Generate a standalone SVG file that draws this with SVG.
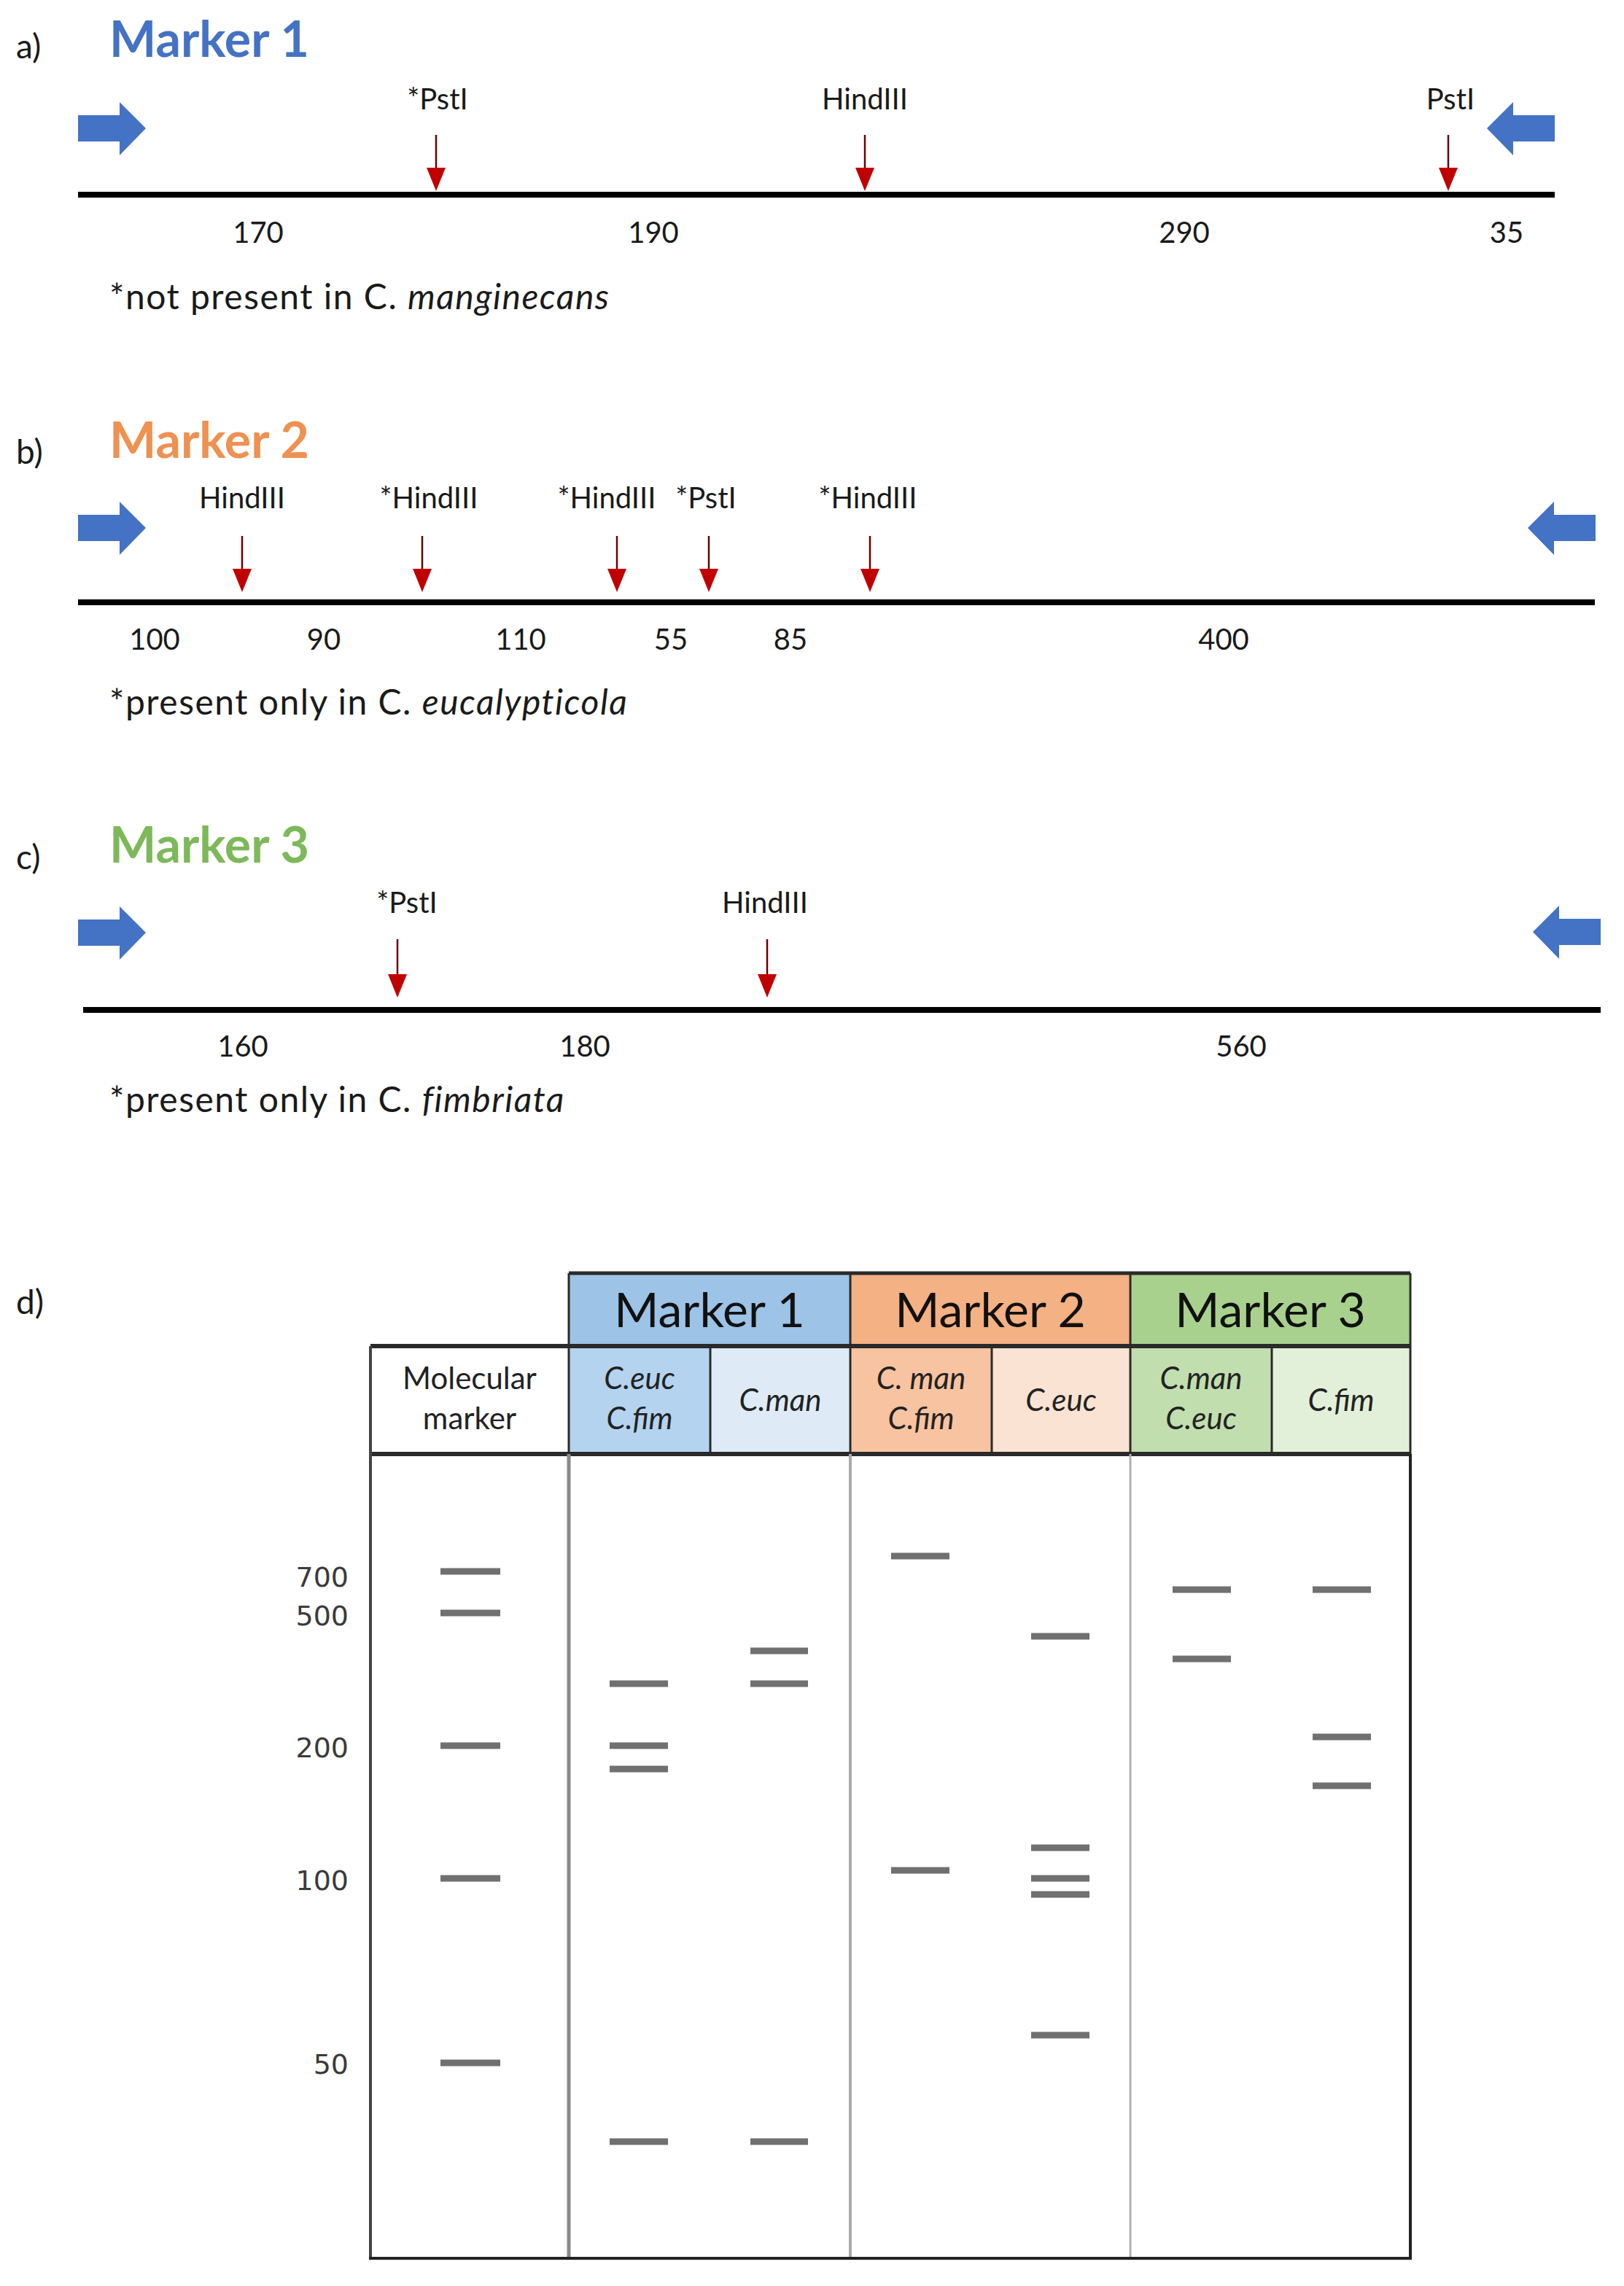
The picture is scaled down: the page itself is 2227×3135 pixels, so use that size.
<svg xmlns="http://www.w3.org/2000/svg" width="2227" height="3135" viewBox="0 0 2227 3135">
<defs>
<style>
.t{font-family:Lato,'Liberation Sans',sans-serif;fill:#1a1a1a}
.enz{font-size:40px;text-anchor:middle}
.num{font-size:40px;text-anchor:middle}
.note{font-size:48px;letter-spacing:1.5px}
.title{font-size:68px;font-weight:bold}
.pl{font-size:46px}
.rs{stroke:#6b0000;stroke-width:2.5;marker-end:url(#rh)}
.dna{stroke:#000;stroke-width:8}
.band{stroke:#707070;stroke-width:9}
.gl{font-family:'DejaVu Sans',Verdana,sans-serif;font-size:38px;fill:#3a3a3a;text-anchor:end}
.hd{font-size:66px;text-anchor:middle;fill:#111}
.sh{font-size:42px;text-anchor:middle;fill:#222}
.it{font-style:italic}
.blue{fill:#4472C4}
</style>
<marker id="rh" markerUnits="userSpaceOnUse" viewBox="0 0 32 26" refX="0" refY="13" markerWidth="32" markerHeight="26" orient="auto">
<path d="M0,0 L32,13 L0,26 Z" fill="#C00000"/>
</marker>
<path id="barr" d="M0,-18 H57 V-36 L93,0 L57,37 V18 H0 Z"/>
</defs>
<rect width="2227" height="3135" fill="#fff"/>

<!-- Panel a -->
<g id="panel-a">
<text class="t pl" x="22" y="80">a)</text>
<text class="t title" x="150" y="78" style="fill:#4472C4">Marker 1</text>
<use href="#barr" class="blue" transform="translate(107,176)"/>
<use href="#barr" class="blue" transform="translate(2132,176) scale(-1,1)"/>
<line class="dna" x1="107" y1="267" x2="2132" y2="267"/>
<g id="cuts-a">
<line class="rs" x1="598" y1="185" x2="598" y2="230"/>
<line class="rs" x1="1186" y1="185" x2="1186" y2="230"/>
<line class="rs" x1="1986" y1="185" x2="1986" y2="230"/>
</g>
<text class="t enz" x="600" y="150">*PstI</text>
<text class="t enz" x="1186" y="150">HindIII</text>
<text class="t enz" x="1989" y="150">PstI</text>
<text class="t num" x="354" y="333">170</text>
<text class="t num" x="896" y="333">190</text>
<text class="t num" x="1624" y="333">290</text>
<text class="t num" x="2066" y="333">35</text>
<text class="t note" x="150" y="424">*not present in C. <tspan class="it">manginecans</tspan></text>
</g>

<!-- Panel b -->
<g id="panel-b">
<text class="t pl" x="22" y="636">b)</text>
<text class="t title" x="150" y="628" style="fill:#EE9151">Marker 2</text>
<use href="#barr" class="blue" transform="translate(107,724)"/>
<use href="#barr" class="blue" transform="translate(2188,724) scale(-1,1)"/>
<line class="dna" x1="107" y1="826" x2="2187" y2="826"/>
<g id="cuts-b">
<line class="rs" x1="332" y1="735" x2="332" y2="780"/>
<line class="rs" x1="579" y1="735" x2="579" y2="780"/>
<line class="rs" x1="846" y1="735" x2="846" y2="780"/>
<line class="rs" x1="972" y1="735" x2="972" y2="780"/>
<line class="rs" x1="1193" y1="735" x2="1193" y2="780"/>
</g>
<text class="t enz" x="332" y="697">HindIII</text>
<text class="t enz" x="588" y="697">*HindIII</text>
<text class="t enz" x="832" y="697">*HindIII</text>
<text class="t enz" x="968" y="697">*PstI</text>
<text class="t enz" x="1190" y="697">*HindIII</text>
<text class="t num" x="212" y="891">100</text>
<text class="t num" x="444" y="891">90</text>
<text class="t num" x="714" y="891">110</text>
<text class="t num" x="920" y="891">55</text>
<text class="t num" x="1084" y="891">85</text>
<text class="t num" x="1678" y="891">400</text>
<text class="t note" x="150" y="980">*present only in C. <tspan class="it">eucalypticola</tspan></text>
</g>

<!-- Panel c -->
<g id="panel-c">
<text class="t pl" x="22" y="1192">c)</text>
<text class="t title" x="150" y="1183" style="fill:#7DB95A">Marker 3</text>
<use href="#barr" class="blue" transform="translate(107,1279)"/>
<use href="#barr" class="blue" transform="translate(2195,1278) scale(-1,1)"/>
<line class="dna" x1="114" y1="1385" x2="2195" y2="1385"/>
<g id="cuts-c">
<line class="rs" x1="545" y1="1288" x2="545" y2="1336"/>
<line class="rs" x1="1052" y1="1288" x2="1052" y2="1336"/>
</g>
<text class="t enz" x="558" y="1252">*PstI</text>
<text class="t enz" x="1049" y="1252">HindIII</text>
<text class="t num" x="333" y="1449">160</text>
<text class="t num" x="802" y="1449">180</text>
<text class="t num" x="1702" y="1449">560</text>
<text class="t note" x="150" y="1525">*present only in C. <tspan class="it">fimbriata</tspan></text>
</g>

<!-- Panel d -->
<g id="panel-d">
<text class="t pl" x="22" y="1802">d)</text>
<g id="table-fills">
<rect x="780" y="1746" width="386" height="100" fill="#9DC3E6"/>
<rect x="1166" y="1746" width="384" height="100" fill="#F4B183"/>
<rect x="1550" y="1746" width="384" height="100" fill="#A9D18E"/>
<rect x="508" y="1846" width="272" height="148" fill="#fff"/>
<rect x="780" y="1846" width="194" height="148" fill="#B4D3EF"/>
<rect x="974" y="1846" width="192" height="148" fill="#DEEBF7"/>
<rect x="1166" y="1846" width="194" height="148" fill="#F8C3A0"/>
<rect x="1360" y="1846" width="190" height="148" fill="#FBE3D3"/>
<rect x="1550" y="1846" width="194" height="148" fill="#C1DEAE"/>
<rect x="1744" y="1846" width="190" height="148" fill="#E2F0D9"/>
</g>
<g id="table-lines" stroke="#2a2a2a" stroke-width="4" fill="none">
<path d="M780,1746 H1934" stroke-width="5"/>
<path d="M508,1846 H1934" stroke-width="6"/>
<path d="M508,1994 H1934" stroke-width="6"/>
<path d="M780,1746 V1994 M1166,1746 V1994 M1550,1746 V1994 M1934,1746 V1994" stroke-width="3"/>
<path d="M974,1846 V1994 M1360,1846 V1994 M1744,1846 V1994" stroke-width="3"/>
<path d="M508,1846 V3097" stroke="#444"/>
<path d="M780,1994 V3097" stroke="#8a8a8a" stroke-width="5"/>
<path d="M1166,1994 V3097" stroke="#aaa"/>
<path d="M1550,1994 V3097" stroke="#b0b0b0" stroke-width="3"/>
<path d="M1934,1994 V3097" stroke="#222"/>
<path d="M506,3097 H1936" stroke="#222"/>
</g>
<g id="headers">
<text class="t hd" x="973" y="1820">Marker 1</text>
<text class="t hd" x="1358" y="1820">Marker 2</text>
<text class="t hd" x="1742" y="1820">Marker 3</text>
<text class="t sh" x="644" y="1905">Molecular</text>
<text class="t sh" x="644" y="1960">marker</text>
<text class="t sh it" x="877" y="1905">C.euc</text>
<text class="t sh it" x="877" y="1960">C.fim</text>
<text class="t sh it" x="1070" y="1935">C.man</text>
<text class="t sh it" x="1263" y="1905">C. man</text>
<text class="t sh it" x="1263" y="1960">C.fim</text>
<text class="t sh it" x="1455" y="1935">C.euc</text>
<text class="t sh it" x="1647" y="1905">C.man</text>
<text class="t sh it" x="1647" y="1960">C.euc</text>
<text class="t sh it" x="1839" y="1935">C.fim</text>
</g>
<g id="ladder-labels">
<text class="gl" x="478" y="2176">700</text>
<text class="gl" x="478" y="2229">500</text>
<text class="gl" x="478" y="2410">200</text>
<text class="gl" x="478" y="2592">100</text>
<text class="gl" x="478" y="2844">50</text>
</g>
<g id="bands">
<path class="band" d="M604,2155 H686 M604,2212 H686 M604,2394 H686 M604,2576 H686 M604,2829 H686"/>
<path class="band" d="M836,2309 H916 M836,2394 H916 M836,2426 H916 M836,2937 H916"/>
<path class="band" d="M1029,2264 H1108 M1029,2309 H1108 M1029,2937 H1108"/>
<path class="band" d="M1222,2134 H1302 M1222,2565 H1302"/>
<path class="band" d="M1414,2244 H1494 M1414,2534 H1494 M1414,2576 H1494 M1414,2598 H1494 M1414,2791 H1494"/>
<path class="band" d="M1608,2180 H1688 M1608,2275 H1688"/>
<path class="band" d="M1800,2180 H1880 M1800,2382 H1880 M1800,2449 H1880"/>
</g>
</g>
</svg>
